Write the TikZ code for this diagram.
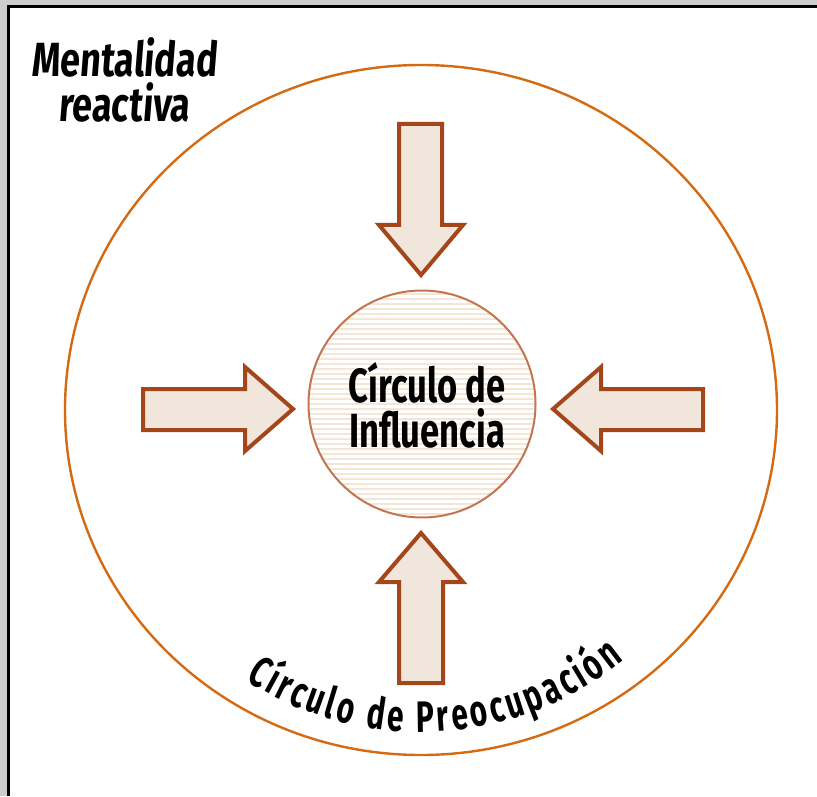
\documentclass[tikz,border=0pt]{standalone}
\usepackage{fontspec}
\setmainfont{Fira Sans}
\newfontfamily\condfont[FakeStretch=0.72]{Fira Sans}
\newfontfamily\slantfont[FakeStretch=0.75,FakeSlant=0.08]{Fira Sans}
\newfontfamily\arcfont[FakeStretch=0.68]{Fira Sans}
\usetikzlibrary{decorations.text}
\definecolor{rust}{HTML}{A5451A}
\definecolor{arrowfill}{HTML}{F0E6DC}
\definecolor{outerorange}{HTML}{D46A12}
\definecolor{innerline}{HTML}{C27650}
\definecolor{stripe}{HTML}{F3E6D6}
\definecolor{frame}{HTML}{CDCDCD}
\tikzset{
  bigarrow/.style={draw=rust, fill=arrowfill, line width=2pt, line join=miter},
  bigtext/.style={font=\condfont\bfseries\fontsize{24}{22.5}\selectfont, align=center, inner sep=0pt}
}
\begin{document}
\begin{tikzpicture}[x=0.5pt,y=-0.5pt]
            \useasboundingbox (0,0) rectangle (817,796);
            \fill[white] (0,0) rectangle (817,796);
            \fill[frame] (0,0) rectangle (817,5);
            \fill[frame] (0,0) rectangle (7,796);
            \fill[black] (7,5) rectangle (817,8);
            \fill[black] (7,5) rectangle (10,796);

            \coordinate (c) at (421,410);
            \draw[outerorange, line width=1.2pt] (c) ellipse [x radius=356, y radius=345];

            \node[bigtext, font=\slantfont\bfseries\fontsize{24}{22.5}\selectfont] (mental) at (124,80) {Mentalidad\\reactiva};

            \node[circle, draw=innerline, line width=1pt, fill=white, minimum size=113.5pt,
                  path picture={
                    \foreach \k in {-24,...,24}
                      \draw[stripe, line width=1pt]
                        ([yshift=\k*2.5pt]path picture bounding box.west) --
                        ([yshift=\k*2.5pt]path picture bounding box.east);
                  }] (influ) at (422,404) {};
            \node[bigtext] (influtext) at (427,405) {Círculo de\\Influencia};

            % four arrows pointing at the inner circle
            \draw[bigarrow] (399,124) -- (442,124) -- (442,225) -- (463,225) -- (421,275)
                            -- (379,225) -- (399,225) -- cycle;
            \draw[bigarrow] (399,683) -- (443,683) -- (443,582) -- (463,582) -- (421,533)
                            -- (379,582) -- (399,582) -- cycle;
            \draw[bigarrow] (143,389) -- (245,389) -- (245,367) -- (293,409) -- (245,451)
                            -- (245,430) -- (143,430) -- cycle;
            \draw[bigarrow] (703,389) -- (601,389) -- (601,367) -- (553,409) -- (601,451)
                            -- (601,430) -- (703,430) -- cycle;

            \path[decorate, decoration={text along path,
                  text={|\arcfont\bfseries\fontsize{22}{22}\selectfont|Círculo de Preocupación},
                  text align={fit to path}}]
                  (c) ++(-237:322) arc [start angle=-237, end angle=-309, radius=322];
\end{tikzpicture}
\end{document}
